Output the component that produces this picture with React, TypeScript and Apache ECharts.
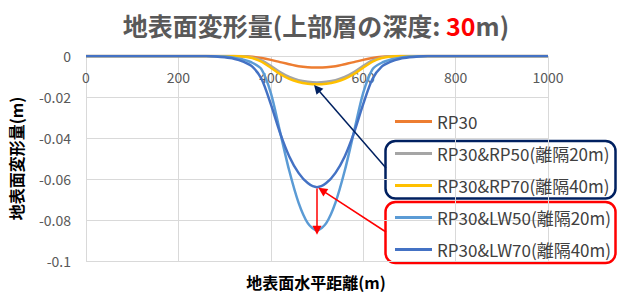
import React, { useEffect, useRef } from "react";
import * as echarts from "echarts";

const xs = [0, 200, 260, 280, 300, 320, 340, 360, 380, 400, 420, 440, 460, 480, 500, 520, 540, 560, 580, 600, 620, 640, 660, 680, 700, 720, 740, 800, 1000];

const rp30 = [0, 0, 0, 0, 0, 0, -0.0001, -0.0004, -0.001, -0.0019, -0.003, -0.004, -0.005, -0.0055, -0.0056, -0.0055, -0.005, -0.004, -0.003, -0.0019, -0.001, -0.0004, -0.0001, 0, 0, 0, 0, 0, 0];
const rp50 = [0, 0, 0, 0, 0, 0, -0.0001, -0.0007, -0.0022, -0.0048, -0.0078, -0.0102, -0.0118, -0.0126, -0.0129, -0.0126, -0.0118, -0.0102, -0.0078, -0.0048, -0.0022, -0.0007, -0.0001, 0, 0, 0, 0, 0, 0];
const rp70 = [0, 0, 0, 0, 0, 0, -0.0002, -0.001, -0.0028, -0.0057, -0.0088, -0.0112, -0.0127, -0.0135, -0.0138, -0.0135, -0.0127, -0.0112, -0.0088, -0.0057, -0.0028, -0.001, -0.0002, 0, 0, 0, 0, 0, 0];
const lw50 = [0, 0, 0, -0.0001, -0.0003, -0.0008, -0.0017, -0.0033, -0.0065, -0.018, -0.037, -0.056, -0.0715, -0.0815, -0.085, -0.0815, -0.0715, -0.056, -0.037, -0.018, -0.0065, -0.0033, -0.0017, -0.0008, -0.0003, -0.0001, 0, 0, 0];
const lw70 = [0, 0, 0, -0.0002, -0.0006, -0.0013, -0.0027, -0.0052, -0.0112, -0.0235, -0.0375, -0.049, -0.057, -0.062, -0.064, -0.062, -0.057, -0.049, -0.0375, -0.0235, -0.0112, -0.0052, -0.0027, -0.0013, -0.0006, -0.0002, 0, 0, 0];

const seriesNames = ["RP30", "RP30&RP50(離隔20m)", "RP30&RP70(離隔40m)", "RP30&LW50(離隔20m)", "RP30&LW70(離隔40m)"];
const seriesValues = [rp30, rp50, rp70, lw50, lw70];
const seriesColors = ["#ED7D31", "#A5A5A5", "#FFC000", "#5B9BD5", "#4472C4"];

// annotation targets (data coords)
const navyTip = [500, -0.0158];
const redTip = [511, -0.0655];
const dropFrom = [500, -0.0646];
const dropTo = [500, -0.085];

const FONT = "'Noto Sans CJK JP', 'Noto Sans', sans-serif";
const NAVY = "#002060";
const RED = "#FF0000";

export default function App() {
  const ref = useRef<HTMLDivElement>(null);
  useEffect(() => {
    const chart = echarts.init(ref.current!, null, { renderer: "svg" });
    const series: any[] = seriesNames.map((name, i) => ({
      name,
      type: "line",
      data: xs.map((x, j) => [x, seriesValues[i][j]]),
      smooth: 0.3,
      showSymbol: false,
      symbol: "none",
      lineStyle: { color: seriesColors[i], width: 2.5 },
      itemStyle: { color: seriesColors[i] },
      emphasis: { disabled: true },
    }));
    series[4].markLine = {
      silent: true,
      animation: false,
      symbol: ["none", "triangle"],
      symbolSize: 9,
      label: { show: false },
      emphasis: { disabled: true },
      data: [
        [
          { x: 386, y: 168, lineStyle: { color: NAVY, width: 1.5, type: "solid" }, itemStyle: { color: NAVY } },
          { coord: navyTip },
        ],
        [
          { x: 386, y: 232, lineStyle: { color: RED, width: 1.5, type: "solid" }, itemStyle: { color: RED } },
          { coord: redTip },
        ],
        [
          { coord: dropFrom, lineStyle: { color: RED, width: 1.5, type: "solid" }, itemStyle: { color: RED } },
          { coord: dropTo },
        ],
      ],
    };
    chart.setOption({
      animation: false,
      backgroundColor: "#FFFFFF",
      textStyle: { fontFamily: FONT },
      grid: { left: 86, right: 69, top: 56, bottom: 33, containLabel: false, outerBoundsMode: "none" },
      xAxis: {
        type: "value",
        position: "top",
        min: 0,
        max: 1000,
        interval: 200,
        axisLine: { show: false },
        axisTick: { show: false },
        axisLabel: { inside: true, margin: 14, color: "#595959", fontSize: 14, fontFamily: FONT, formatter: (v: number) => String(v) },
        splitLine: { show: true, lineStyle: { color: "#D9D9D9", width: 1 } },
      },
      yAxis: {
        type: "value",
        min: -0.1,
        max: 0,
        interval: 0.02,
        name: "地表面変形量(m)",
        nameLocation: "middle",
        nameRotate: 90,
        nameGap: 62,
        nameTextStyle: { color: "#000000", fontSize: 16, fontWeight: "bold", fontFamily: FONT },
        axisLine: { show: true, lineStyle: { color: "#D9D9D9", width: 1 } },
        axisTick: { show: false },
        axisLabel: { margin: 15, color: "#595959", fontSize: 14, fontFamily: FONT },
        splitLine: { show: true, lineStyle: { color: "#D9D9D9", width: 1 } },
      },
      legend: {
        orient: "vertical",
        left: 395,
        top: 113,
        padding: 0,
        icon: "rect",
        itemWidth: 37,
        itemHeight: 3,
        itemGap: 15,
        selectedMode: false,
        data: seriesNames,
        textStyle: { color: "#404040", fontSize: 17, lineHeight: 16, fontFamily: FONT },
      },
      graphic: [
        {
          type: "text",
          x: 316,
          y: 25,
          style: {
            text: "{a|地表面変形量(上部層の深度: }{b|30}{a|m)}",
            align: "center",
            verticalAlign: "middle",
            rich: {
              a: { fontSize: 25, fontWeight: "bold", fill: "#595959", fontFamily: FONT },
              b: { fontSize: 25, fontWeight: "bold", fill: "#FF0000", fontFamily: FONT },
            },
          },
        },
        {
          type: "text",
          x: 316,
          y: 282,
          style: {
            text: "地表面水平距離(m)",
            align: "center",
            verticalAlign: "middle",
            fontSize: 16,
            lineHeight: 18,
            fontWeight: "bold",
            fill: "#000000",
            fontFamily: FONT,
          },
        },
        {
          type: "rect",
          shape: { x: 385.5, y: 141, width: 230, height: 57.5, r: 10 },
          style: { fill: "none", stroke: NAVY, lineWidth: 2.5 },
        },
        {
          type: "rect",
          shape: { x: 385.5, y: 202, width: 230, height: 61, r: 10 },
          style: { fill: "none", stroke: RED, lineWidth: 2.5 },
        },
      ],
      series,
    });
    return () => chart.dispose();
  }, []);
  return <div ref={ref} style={{ position: "fixed", left: 0, top: 0, width: 617, height: 294 }} />;
}
